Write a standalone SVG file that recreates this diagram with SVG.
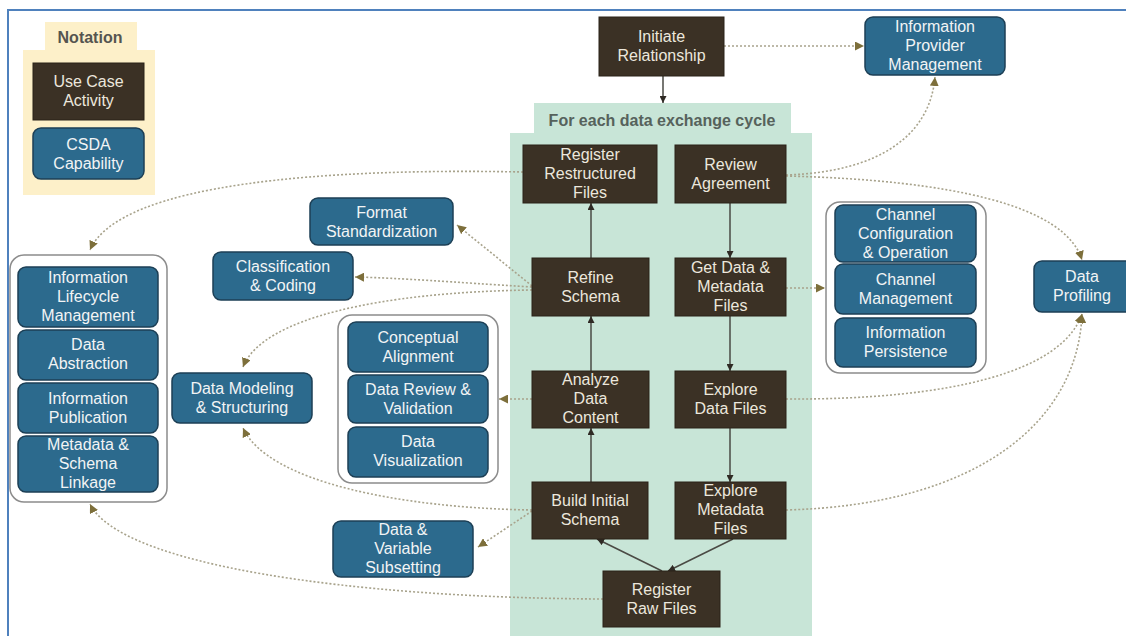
<svg xmlns="http://www.w3.org/2000/svg" width="1126" height="636" viewBox="0 0 1126 636">
  <style>
    text { font-family: "Liberation Sans Narrow", "Liberation Sans", Arial, sans-serif; font-size: 16px; text-anchor: middle; }
    .act { fill: #3b3125; stroke: #2a2219; stroke-width: 1; }
    .cap { fill: #2c6a8d; stroke: #1c3f55; stroke-width: 1.5; }
    .grp { fill: #ffffff; stroke: #8c8c8c; stroke-width: 1.5; }
    .t-act { fill: #ece7dd; }
    .t-cap { fill: #f2f4f5; }
    .solid { fill: none; stroke: #4a4a44; stroke-width: 1.5; }
    .dot { fill: none; stroke: #a8a38c; stroke-width: 1.6; stroke-dasharray: 2 2; }
  </style>
  <defs>
    <marker id="ah-solid" viewBox="0 0 10 10" refX="10" refY="5" markerWidth="7" markerHeight="7" markerUnits="userSpaceOnUse" orient="auto">
      <path d="M0,0 L10,5 L0,10 z" fill="#2f2a24"/>
    </marker>
    <marker id="ah-dot" viewBox="0 0 10 10" refX="10" refY="5" markerWidth="9" markerHeight="9" markerUnits="userSpaceOnUse" orient="auto">
      <path d="M0,0 L10,5 L0,10 z" fill="#7d6f3b"/>
    </marker>
  </defs>

  <rect width="1126" height="636" fill="#ffffff"/>
  <!-- frame edges -->
  <path d="M8,636 L8,10 L1126,10" fill="none" stroke="#4f81bd" stroke-width="2"/>

  <!-- notation legend -->
  <g id="notation">
    <rect x="45" y="22" width="92" height="30" fill="#fdf0c9"/>
    <rect x="23" y="50" width="132" height="145" fill="#fdf0c9"/>
    <text x="90" y="43" font-weight="bold" fill="#555550">Notation</text>
    <rect class="act" x="33" y="63" width="111" height="57"/>
    <text class="t-act" x="88.5" y="87">Use Case<tspan x="88.5" dy="19">Activity</tspan></text>
    <rect class="cap" x="33" y="128" width="111" height="51" rx="8"/>
    <text class="t-cap" x="88.5" y="150">CSDA<tspan x="88.5" dy="19">Capability</tspan></text>
  </g>

  <!-- exchange cycle band -->
  <g id="cycle-band">
    <rect x="534" y="103" width="257" height="32" fill="#c8e5d7"/>
    <rect x="510" y="133" width="302" height="503" fill="#c8e5d7"/>
    <text x="662" y="126" font-weight="bold" font-size="16.5" fill="#56625c">For each data exchange cycle</text>
  </g>

  <!-- capability groups -->
  <g id="group-lifecycle"><rect class="grp" x="10" y="255" width="157" height="247" rx="14"/></g>
  <g id="group-review"><rect class="grp" x="338" y="315" width="160" height="168" rx="14"/></g>
  <g id="group-channel"><rect class="grp" x="826" y="202" width="160" height="171" rx="14"/></g>

  <!-- connectors -->
  <g id="connectors">
    <!-- activity flow -->
    <path class="solid" d="M663,76 L663,103" marker-end="url(#ah-solid)"/>
    <path class="solid" d="M730,203 L730,258" marker-end="url(#ah-solid)"/>
    <path class="solid" d="M730,316 L730,371" marker-end="url(#ah-solid)"/>
    <path class="solid" d="M730,428 L730,482" marker-end="url(#ah-solid)"/>
    <path class="solid" d="M733,539 L668,571" marker-end="url(#ah-solid)"/>
    <path class="solid" d="M662,571 L597,539" marker-end="url(#ah-solid)"/>
    <path class="solid" d="M591,482 L591,428" marker-end="url(#ah-solid)"/>
    <path class="solid" d="M591,371 L591,316" marker-end="url(#ah-solid)"/>
    <path class="solid" d="M591,258 L591,203" marker-end="url(#ah-solid)"/>

    <!-- capability links -->
    <path class="dot" d="M724,46 L864,46" marker-end="url(#ah-dot)"/>
    <path class="dot" d="M786,175 C880,172 930,135 935,77" marker-end="url(#ah-dot)"/>
    <path class="dot" d="M786,176 C950,180 1065,205 1082,260" marker-end="url(#ah-dot)"/>
    <path class="dot" d="M523,172 C330,168 120,182 90,250" marker-end="url(#ah-dot)"/>
    <path class="dot" d="M532,286 L457,225" marker-end="url(#ah-dot)"/>
    <path class="dot" d="M532,287 C450,282 400,278 355,277" marker-end="url(#ah-dot)"/>
    <path class="dot" d="M532,290 C380,292 262,318 243,367" marker-end="url(#ah-dot)"/>
    <path class="dot" d="M786,288 L825,288" marker-end="url(#ah-dot)"/>
    <path class="dot" d="M532,399 L499,399" marker-end="url(#ah-dot)"/>
    <path class="dot" d="M786,399 C950,400 1062,372 1082,314" marker-end="url(#ah-dot)"/>
    <path class="dot" d="M786,510 C980,505 1078,420 1082,314" marker-end="url(#ah-dot)"/>
    <path class="dot" d="M532,510 C400,508 268,482 243,428" marker-end="url(#ah-dot)"/>
    <path class="dot" d="M532,511 L478,547" marker-end="url(#ah-dot)"/>
    <path class="dot" d="M603,599 C350,598 120,565 90,504" marker-end="url(#ah-dot)"/>
  </g>

  <!-- use case activities -->
  <g id="initiate-relationship">
    <rect class="act" x="599" y="17" width="125" height="59"/>
    <text class="t-act" x="661.5" y="42">Initiate<tspan x="661.5" dy="19">Relationship</tspan></text>
  </g>
  <g id="register-restructured-files">
    <rect class="act" x="523" y="145" width="134" height="58"/>
    <text class="t-act" x="590" y="160">Register<tspan x="590" dy="19">Restructured</tspan><tspan x="590" dy="19">Files</tspan></text>
  </g>
  <g id="review-agreement">
    <rect class="act" x="675" y="145" width="111" height="58"/>
    <text class="t-act" x="730.5" y="170">Review<tspan x="730.5" dy="19">Agreement</tspan></text>
  </g>
  <g id="refine-schema">
    <rect class="act" x="532" y="258" width="117" height="58"/>
    <text class="t-act" x="590.5" y="283">Refine<tspan x="590.5" dy="19">Schema</tspan></text>
  </g>
  <g id="get-data-metadata-files">
    <rect class="act" x="675" y="258" width="111" height="58"/>
    <text class="t-act" x="730.5" y="273">Get Data &amp;<tspan x="730.5" dy="19">Metadata</tspan><tspan x="730.5" dy="19">Files</tspan></text>
  </g>
  <g id="analyze-data-content">
    <rect class="act" x="532" y="371" width="117" height="57"/>
    <text class="t-act" x="590.5" y="385">Analyze<tspan x="590.5" dy="19">Data</tspan><tspan x="590.5" dy="19">Content</tspan></text>
  </g>
  <g id="explore-data-files">
    <rect class="act" x="675" y="371" width="111" height="57"/>
    <text class="t-act" x="730.5" y="395">Explore<tspan x="730.5" dy="19">Data Files</tspan></text>
  </g>
  <g id="build-initial-schema">
    <rect class="act" x="532" y="482" width="116" height="57"/>
    <text class="t-act" x="590" y="506">Build Initial<tspan x="590" dy="19">Schema</tspan></text>
  </g>
  <g id="explore-metadata-files">
    <rect class="act" x="675" y="482" width="111" height="57"/>
    <text class="t-act" x="730.5" y="496">Explore<tspan x="730.5" dy="19">Metadata</tspan><tspan x="730.5" dy="19">Files</tspan></text>
  </g>
  <g id="register-raw-files">
    <rect class="act" x="603" y="571" width="117" height="56"/>
    <text class="t-act" x="661.5" y="595">Register<tspan x="661.5" dy="19">Raw Files</tspan></text>
  </g>

  <!-- CSDA capabilities -->
  <g id="information-provider-management">
    <rect class="cap" x="865" y="17" width="140" height="58" rx="8"/>
    <text class="t-cap" x="935" y="32">Information<tspan x="935" dy="19">Provider</tspan><tspan x="935" dy="19">Management</tspan></text>
  </g>
  <g id="format-standardization">
    <rect class="cap" x="310" y="198" width="143" height="47" rx="8"/>
    <text class="t-cap" x="381.5" y="218">Format<tspan x="381.5" dy="19">Standardization</tspan></text>
  </g>
  <g id="classification-coding">
    <rect class="cap" x="213" y="252" width="140" height="48" rx="8"/>
    <text class="t-cap" x="283" y="272">Classification<tspan x="283" dy="19">&amp; Coding</tspan></text>
  </g>
  <g id="information-lifecycle-management">
    <rect class="cap" x="18" y="267" width="140" height="60" rx="8"/>
    <text class="t-cap" x="88" y="283">Information<tspan x="88" dy="19">Lifecycle</tspan><tspan x="88" dy="19">Management</tspan></text>
  </g>
  <g id="data-abstraction">
    <rect class="cap" x="18" y="330" width="140" height="50" rx="8"/>
    <text class="t-cap" x="88" y="350">Data<tspan x="88" dy="19">Abstraction</tspan></text>
  </g>
  <g id="information-publication">
    <rect class="cap" x="18" y="383" width="140" height="50" rx="8"/>
    <text class="t-cap" x="88" y="404">Information<tspan x="88" dy="19">Publication</tspan></text>
  </g>
  <g id="metadata-schema-linkage">
    <rect class="cap" x="18" y="436" width="140" height="56" rx="8"/>
    <text class="t-cap" x="88" y="450">Metadata &amp;<tspan x="88" dy="19">Schema</tspan><tspan x="88" dy="19">Linkage</tspan></text>
  </g>
  <g id="data-modeling-structuring">
    <rect class="cap" x="172" y="373" width="140" height="50" rx="8"/>
    <text class="t-cap" x="242" y="394">Data Modeling<tspan x="242" dy="19">&amp; Structuring</tspan></text>
  </g>
  <g id="conceptual-alignment">
    <rect class="cap" x="348" y="322" width="140" height="50" rx="8"/>
    <text class="t-cap" x="418" y="343">Conceptual<tspan x="418" dy="19">Alignment</tspan></text>
  </g>
  <g id="data-review-validation">
    <rect class="cap" x="348" y="375" width="140" height="48" rx="8"/>
    <text class="t-cap" x="418" y="395">Data Review &amp;<tspan x="418" dy="19">Validation</tspan></text>
  </g>
  <g id="data-visualization">
    <rect class="cap" x="348" y="427" width="140" height="50" rx="8"/>
    <text class="t-cap" x="418" y="447">Data<tspan x="418" dy="19">Visualization</tspan></text>
  </g>
  <g id="channel-configuration-operation">
    <rect class="cap" x="835" y="205" width="141" height="57" rx="8"/>
    <text class="t-cap" x="905.5" y="220">Channel<tspan x="905.5" dy="19">Configuration</tspan><tspan x="905.5" dy="19">&amp; Operation</tspan></text>
  </g>
  <g id="channel-management">
    <rect class="cap" x="835" y="264" width="141" height="50" rx="8"/>
    <text class="t-cap" x="905.5" y="285">Channel<tspan x="905.5" dy="19">Management</tspan></text>
  </g>
  <g id="information-persistence">
    <rect class="cap" x="835" y="318" width="141" height="49" rx="8"/>
    <text class="t-cap" x="905.5" y="338">Information<tspan x="905.5" dy="19">Persistence</tspan></text>
  </g>
  <g id="data-profiling">
    <rect class="cap" x="1034" y="261" width="100" height="51" rx="8"/>
    <text class="t-cap" x="1082" y="282">Data<tspan x="1082" dy="19">Profiling</tspan></text>
  </g>
  <g id="data-variable-subsetting">
    <rect class="cap" x="333" y="521" width="140" height="56" rx="8"/>
    <text class="t-cap" x="403" y="535">Data &amp;<tspan x="403" dy="19">Variable</tspan><tspan x="403" dy="19">Subsetting</tspan></text>
  </g>
</svg>
